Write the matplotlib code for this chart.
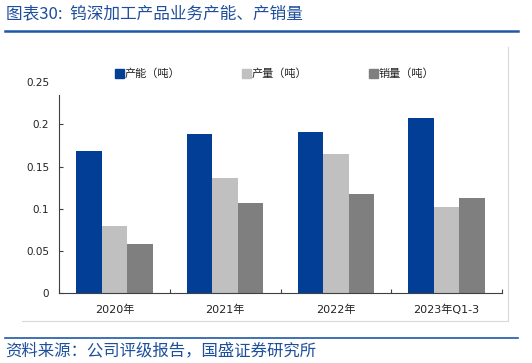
import matplotlib
matplotlib.use("Agg")
import matplotlib.pyplot as plt
from matplotlib.lines import Line2D
from matplotlib.patches import Rectangle
import numpy as np

categories = ["2020年", "2021年", "2022年", "2023年Q1-3"]
series_names = ["产能（吨）", "产量（吨）", "销量（吨）"]
capacity = [0.168, 0.1885, 0.191, 0.207]
output = [0.080, 0.136, 0.165, 0.1025]
sales = [0.058, 0.1065, 0.118, 0.1125]
yticks = [0, 0.05, 0.1, 0.15, 0.2, 0.25]
ytick_labels = ["0", "0.05", "0.1", "0.15", "0.2", "0.25"]

title = "图表30:  钨深加工产品业务产能、产销量"
source = "资料来源：公司评级报告，国盛证券研究所"

colors = ["#033e96", "#c0c0c0", "#7f7f7f"]
blue_text = "#1d4f9c"
CJK = ["Noto Sans CJK SC", "DejaVu Sans"]
MIX = ["DejaVu Sans", "Noto Sans CJK SC"]

W, H = 532, 363
fig = plt.figure(figsize=(W / 100, H / 100), dpi=100)

def fx(px):
    return px / W

def fy(py):
    return 1 - py / H

# header / footer
fig.text(fx(6), fy(14), title, family=CJK, fontsize=12, color=blue_text,
         ha="left", va="center")
fig.add_artist(Line2D([fx(5), fx(518)], [fy(31), fy(31)], color="#1f58a8", lw=1.8))
fig.add_artist(Line2D([fx(5), fx(518)], [fy(337.5), fy(337.5)], color="#1f58a8", lw=1.2))
fig.text(fx(5), fy(351), source, family=CJK, fontsize=11.8, color=blue_text,
         ha="left", va="center")

# chart frame (light grey)
fig.add_artist(Line2D([fx(22), fx(507.5)], [fy(320.5), fy(320.5)], color="#d9d9d9", lw=0.8))
fig.add_artist(Line2D([fx(507.5), fx(507.5)], [fy(47), fy(320.5)], color="#d9d9d9", lw=0.8))

# axes
left, right, bottom, top = 59, 502, 293.3, 82
ax = fig.add_axes([fx(left), fy(bottom), fx(right - left), (bottom - top) / H])
ax.set_ylim(0, 0.25)
ax.set_xlim(-0.5, len(categories) - 0.5)

x = np.arange(len(categories))
bw = 0.23
for i, (vals, c) in enumerate(zip([capacity, output, sales], colors)):
    ax.bar(x + (i - 1) * bw, vals, width=bw, color=c, edgecolor="none", zorder=2)

for s in ["top", "right"]:
    ax.spines[s].set_visible(False)
ax.spines["left"].set_bounds(0, 0.2345)
ax.spines["left"].set_color("#404040")
ax.spines["bottom"].set_color("#404040")
ax.spines["left"].set_linewidth(0.8)
ax.spines["bottom"].set_linewidth(0.8)

ax.set_yticks(yticks)
ax.set_yticklabels(ytick_labels)
ax.tick_params(axis="y", direction="in", length=3, width=0.8, color="#404040",
               labelsize=7.5, pad=7, labelcolor="#222222")
for lab in ax.get_yticklabels():
    lab.set_family("DejaVu Sans")
ax.yaxis.get_major_ticks()[-1].tick1line.set_visible(False)

ax.set_xticks(np.arange(len(categories) + 1) - 0.5)
ax.set_xticklabels([])
ax.tick_params(axis="x", which="major", direction="in", length=3, width=0.8, color="#404040")
ax.set_xticks(x, minor=True)
ax.set_xticklabels(categories, minor=True)
ax.tick_params(axis="x", which="minor", length=0, pad=8, labelsize=8, labelcolor="#222222")
for lab in ax.get_xticklabels(minor=True):
    lab.set_family(MIX)

# legend (manual placement to match)
leg_x = [115, 242, 369]
for name, c, lx in zip(series_names, colors, leg_x):
    fig.add_artist(Rectangle((fx(lx), fy(78)), fx(9), 9 / H, color=c,
                             transform=fig.transFigure))
    fig.text(fx(lx + 10), fy(73.5), name, family=CJK, fontsize=8,
             color="#222222", ha="left", va="center")

fig.savefig("out.png", dpi=100)
